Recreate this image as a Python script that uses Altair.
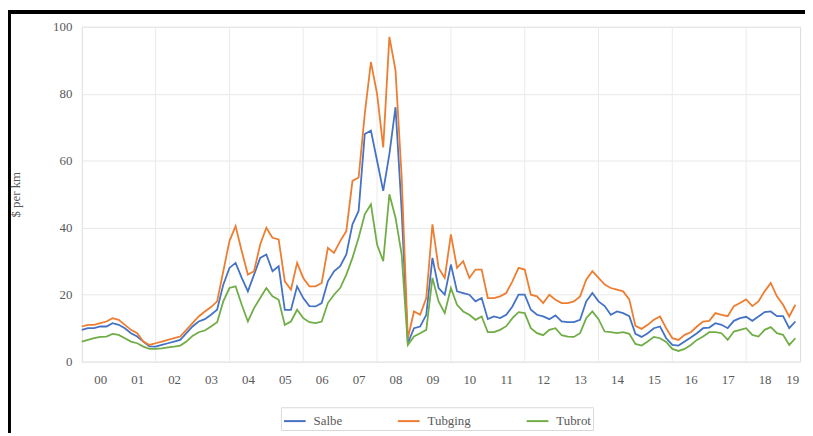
import altair as alt
import pandas as pd

# Bi-monthly observations, Jan 2000 .. ~May 2019 (value in $ per km)
tubging = [10.5, 11, 11, 11.5, 12, 13, 12.5, 11, 9.5, 8.5, 6, 5,
           5.5, 6, 6.5, 7, 7.5, 9.5, 11.5, 13.5, 15, 16.3, 18, 27,
           36, 40.5, 33, 26, 27, 35, 40, 37, 36.5, 24, 21.5, 29.5,
           25, 22.5, 22.5, 23.5, 34, 32.5, 36, 39, 54, 55, 74, 89.5,
           80, 64, 97, 87, 55, 7, 15, 14, 19, 41, 28, 25,
           38, 28, 30, 25, 27.5, 27.5, 19, 19, 19.5, 20.5, 24, 28,
           27.5, 20, 19.5, 17.5, 20, 18.5, 17.5, 17.5, 18, 19.5, 24.5, 27,
           25, 23, 22, 21.5, 21, 18.6, 10.7, 9.8, 11, 12.5, 13.5, 10,
           7, 6.5, 8, 8.8, 10.5, 12, 12.2, 14.5, 14, 13.6, 16.6, 17.5,
           18.6, 16.6, 18, 21, 23.5, 19.5, 17, 13.5, 17]
salbe = [9.5, 10, 10, 10.5, 10.5, 11.5, 11, 10, 8.5, 7.5, 6, 4.6,
         4.5, 5, 5.5, 6, 6.5, 8.5, 10.5, 12, 12.7, 14, 15.5, 23,
         28, 29.5, 25, 21, 26, 31, 32, 27, 28.5, 15.5, 15.5, 22.5,
         19, 16.6, 16.5, 17.5, 24, 27, 28.5, 32, 41, 45, 68, 69,
         60, 51, 62, 76, 45, 5.5, 10, 10.5, 14, 31, 22, 20,
         29, 21, 20.5, 20, 18, 19, 12.7, 13.5, 13, 14, 16.5, 20,
         20, 15.5, 14, 13.5, 12.7, 13.8, 12, 11.8, 11.8, 12.5, 18, 20.5,
         18, 16.6, 14, 15, 14.5, 13.6, 8.3, 7.4, 8.5, 10, 10.5, 7,
         5, 4.8, 6, 7.2, 8.5, 10, 10.2, 11.5, 11, 10, 12.2, 13,
         13.4, 12.2, 13.5, 14.8, 15, 13.6, 13.6, 10, 12]
tubrot = [6, 6.5, 7, 7.4, 7.5, 8.3, 8, 7, 6, 5.5, 4.5, 3.8,
          3.8, 4, 4.3, 4.5, 4.8, 6, 7.7, 8.8, 9.3, 10.5, 11.8, 18,
          22, 22.5, 17, 12, 16, 19, 22, 19.5, 18.5, 11, 12, 15.5,
          13, 11.8, 11.5, 12, 17.5, 20, 22, 26, 31, 37, 44, 47,
          35, 30, 50, 43, 32, 5, 7.5, 8.5, 9.5, 25, 18, 14.5,
          22, 17, 15, 14, 12.5, 13.5, 8.8, 8.8, 9.5, 10.6, 13, 14.8,
          14.5, 10, 8.5, 7.9, 9.5, 10, 7.9, 7.5, 7.4, 8.5, 13, 15,
          12.7, 9, 8.8, 8.5, 8.8, 8.3, 5.3, 4.8, 6, 7.4, 7, 5.9,
          3.8, 3.2, 3.8, 5, 6.5, 7.5, 8.8, 8.8, 8.5, 6.5, 9, 9.5,
          10, 8, 7.5, 9.5, 10.3, 8.5, 8, 5, 7]

series_names = ["Salbe", "Tubging", "Tubrot"]
series_colors = ["#4472C4", "#ED7D31", "#70AD47"]

year_labels = ["00", "01", "02", "03", "04", "05", "06", "07", "08", "09",
               "10", "11", "12", "13", "14", "15", "16", "17", "18", "19"]
label_pos = [2000.5, 2001.5, 2002.5, 2003.5, 2004.5, 2005.5, 2006.5, 2007.5,
             2008.5, 2009.5, 2010.5, 2011.5, 2012.5, 2013.5, 2014.5, 2015.5,
             2016.5, 2017.5, 2018.5, 2019.25]
grid_years = [2002, 2004, 2006, 2008, 2010, 2012, 2014, 2016, 2018]
y_ticks = [0, 20, 40, 60, 80, 100]

times = [2000 + i / 6 for i in range(len(salbe))]
rows = []
for name, vals in zip(series_names, [salbe, tubging, tubrot]):
    for t, v in zip(times, vals):
        rows.append({"t": t, "value": v, "series": name})
df = pd.DataFrame(rows)

FONT = "Liberation Serif"
TXT = "#595959"
W, H = 725, 338

# label text looked up from the year_labels list above
label_expr = ("datum.value > 2019 ? '" + year_labels[-1] + "' : ["
              + ",".join("'%s'" % s for s in year_labels)
              + "][floor(datum.value) - 2000]")

xscale = alt.Scale(domain=[2000, 2019.46], nice=False, zero=False)
yscale = alt.Scale(domain=[0, 100], nice=False)

x_axis = alt.Axis(values=label_pos, labelExpr=label_expr, grid=False,
                  domain=False, ticks=False, labelPadding=12,
                  labelOverlap=False, labelFlush=False,
                  title=None, labelFont=FONT, labelFontSize=13,
                  labelColor=TXT)

lines = alt.Chart(df).mark_line(strokeWidth=1.8).encode(
    x=alt.X("t:Q", scale=xscale, axis=x_axis),
    y=alt.Y("value:Q", scale=yscale,
            axis=alt.Axis(values=y_ticks, grid=True, gridColor="#e8e8e8",
                          domain=False, ticks=False, labelPadding=10,
                          title="$ per km", titleFont=FONT, titleFontSize=13,
                          titleFontWeight="normal", titleColor=TXT,
                          titleX=-67, titleY=H / 2, titleAngle=-90,
                          titleAlign="center", titleBaseline="middle",
                          labelFont=FONT, labelFontSize=13, labelColor=TXT)),
    color=alt.Color("series:N",
                    scale=alt.Scale(domain=series_names, range=series_colors),
                    legend=alt.Legend(orient="none", legendX=201, legendY=384,
                                      direction="horizontal", title=None,
                                      symbolType="stroke", symbolStrokeWidth=2,
                                      symbolSize=480, labelFont=FONT,
                                      labelFontSize=13, labelColor=TXT,
                                      strokeColor="#d9d9d9", padding=2,
                                      columnPadding=52, labelOffset=7)),
)

vgrid = alt.Chart(pd.DataFrame({"g": grid_years})).mark_rule(
    color="#ebebeb", strokeWidth=1
).encode(
    x=alt.X("g:Q", scale=xscale, axis=x_axis),
    y=alt.value(0), y2=alt.value(H),
)

one = pd.DataFrame({"a": [0]})
top_border = alt.Chart(one).mark_rule(color="black", strokeWidth=4).encode(
    x=alt.value(-74.5), x2=alt.value(W + 10), y=alt.value(-15))
left_border = alt.Chart(one).mark_rule(color="black", strokeWidth=3).encode(
    x=alt.value(-73), y=alt.value(-17), y2=alt.value(H + 75))

chart = alt.layer(vgrid, lines, top_border, left_border).properties(
    width=W, height=H,
    autosize=alt.AutoSizeParams(type="none"),
    padding={"left": 74.5, "top": 17, "right": 5, "bottom": 70},
).configure_view(stroke=None).configure(background="white").configure_axis(
    labelFont=FONT, titleFont=FONT
)

chart.save("out.html", embed_options={"renderer": "svg", "actions": False})
